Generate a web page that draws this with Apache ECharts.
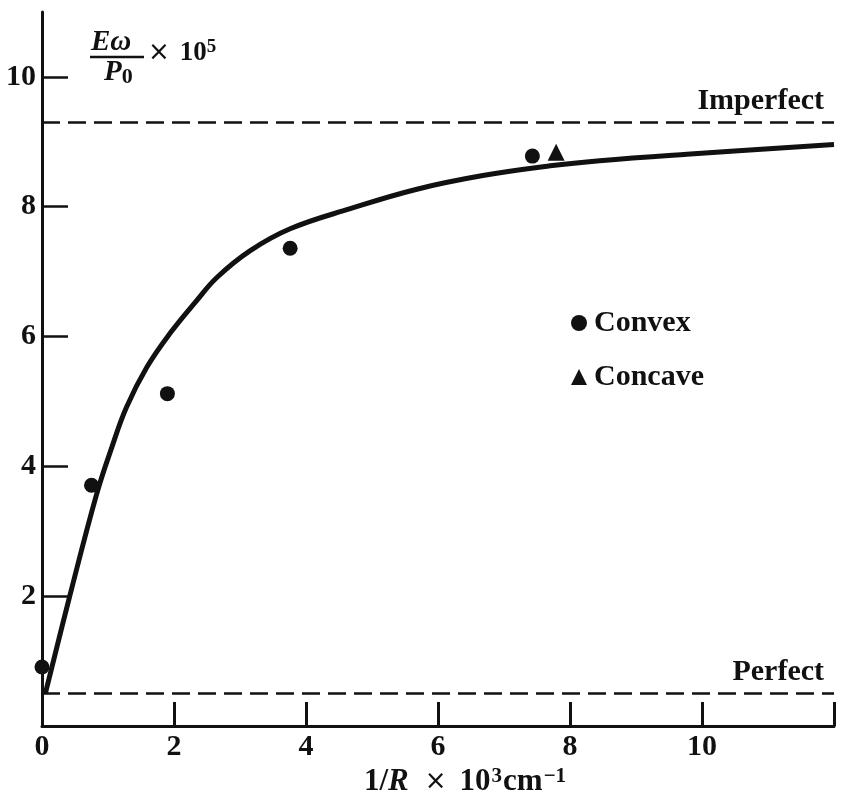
<!DOCTYPE html>
<html>
<head>
<meta charset="utf-8">
<script src="https://cdn.jsdelivr.net/npm/echarts@6/dist/echarts.min.js"></script>
<style>
html,body{margin:0;padding:0;background:#fff;}
#chart{width:855px;height:810px;}
</style>
</head>
<body>
<div id="chart"></div>
<script>
// ---- data ----
const convexX = [0, 0.75, 1.9, 3.76, 7.43];
const convexY = [0.91, 3.71, 5.12, 7.36, 8.78];
const concaveX = [7.79];
const concaveY = [8.84];
const curveX = [0.05, 0.42, 0.83, 1.06, 1.28, 1.59, 1.94, 2.34, 2.65, 3.15, 3.76, 4.67, 5.68, 6.68, 7.70, 8.45, 9.77, 12];
const curveY = [0.5, 2.0, 3.58, 4.3, 4.91, 5.53, 6.05, 6.55, 6.91, 7.32, 7.66, 7.97, 8.27, 8.48, 8.63, 8.71, 8.81, 8.96];
const imperfectLevel = 9.3;
const perfectLevel = 0.5;
const xTickValues = [2, 4, 6, 8, 10, 12];
const xLabelValues = [0, 2, 4, 6, 8, 10];
const yTickValues = [2, 4, 6, 8, 10];
const yLabelValues = [2, 4, 6, 8, 10];
const seriesNames = ['Convex', 'Concave'];

const zip = (a, b) => a.map((v, i) => [v, b[i]]);
const FONT = 'Liberation Serif';
const INK = '#111';

const chart = echarts.init(document.getElementById('chart'), null, {renderer: 'canvas'});
chart.setOption({
  backgroundColor: '#fff',
  animation: false,
  grid: {left: 42, right: 21, top: 12, bottom: 84, containLabel: false},
  xAxis: {
    type: 'value', min: 0, max: 12, interval: 2,
    axisLine: {show: true, lineStyle: {color: INK, width: 3}},
    axisTick: {show: true, inside: true, length: 24, lineStyle: {color: INK, width: 3}, customValues: xTickValues},
    axisLabel: {color: INK, fontFamily: FONT, fontWeight: 'bold', fontSize: 30, margin: 6, customValues: xLabelValues},
    splitLine: {show: false}
  },
  yAxis: {
    type: 'value', min: 0, max: 11, interval: 2,
    axisLine: {show: true, lineStyle: {color: INK, width: 3}},
    axisTick: {show: true, inside: true, length: 26, lineStyle: {color: INK, width: 2.5}, customValues: yTickValues},
    axisLabel: {color: INK, fontFamily: FONT, fontWeight: 'bold', fontSize: 30, margin: 6, customValues: yLabelValues},
    splitLine: {show: false}
  },
  legend: {
    orient: 'vertical', left: 566, top: 303, itemGap: 24,
    itemWidth: 16, itemHeight: 16, itemStyle: {color: INK, opacity: 1},
    textStyle: {color: INK, fontFamily: FONT, fontWeight: 'bold', fontSize: 30, padding: [0, 0, 0, 2]},
    data: [{name: seriesNames[0], icon: 'circle'}, {name: seriesNames[1], icon: 'triangle'}]
  },
  series: [
    {
      type: 'line', name: 'fit', data: zip(curveX, curveY), smooth: 0.4,
      showSymbol: false, lineStyle: {color: INK, width: 5}, z: 3,
      markLine: {
        silent: true, symbol: 'none',
        lineStyle: {color: INK, width: 2.5, type: [18, 8]},
        label: {show: true, position: 'insideEndTop', color: INK, fontFamily: FONT, fontWeight: 'bold', fontSize: 30, distance: [10, 6]},
        data: [
          {yAxis: imperfectLevel, label: {formatter: 'Imperfect'}},
          {yAxis: perfectLevel, label: {formatter: 'Perfect'}}
        ]
      }
    },
    {
      type: 'scatter', name: seriesNames[0], data: zip(convexX, convexY), symbol: 'circle', symbolSize: 15,
      itemStyle: {color: INK, opacity: 1}, clip: false, z: 4
    },
    {
      type: 'scatter', name: seriesNames[1], data: zip(concaveX, concaveY), symbol: 'triangle', symbolSize: 17,
      itemStyle: {color: INK, opacity: 1}, clip: false, z: 4
    }
  ],
  graphic: [
    {
      type: 'text', left: 91, top: 28,
      style: {
        text: '{i|E}{g|ω}', fill: INK,
        rich: {
          i: {fontFamily: FONT, fontWeight: 'bold', fontStyle: 'italic', fontSize: 29, fill: INK},
          g: {fontFamily: FONT, fontWeight: 'bold', fontStyle: 'italic', fontSize: 29, fill: INK}
        }
      }
    },
    {
      type: 'line', shape: {x1: 90, y1: 57, x2: 144, y2: 57},
      style: {stroke: INK, lineWidth: 2.5}
    },
    {
      type: 'text', left: 104, top: 58,
      style: {
        text: '{i|P}{s|0}', fill: INK,
        rich: {
          i: {fontFamily: FONT, fontWeight: 'bold', fontStyle: 'italic', fontSize: 29, fill: INK, lineHeight: 30},
          s: {fontFamily: FONT, fontWeight: 'bold', fontSize: 22, fill: INK, lineHeight: 30, verticalAlign: 'bottom', padding: [8, 0, 0, 0]}
        }
      }
    },
    {
      type: 'text', left: 148, top: 38,
      style: {
        text: '{x|×}{n|10}{s|5}', fill: INK,
        rich: {
          x: {fontFamily: 'DejaVu Sans', fontSize: 26, fill: INK, lineHeight: 30, padding: [0, 10, 0, 0]},
          n: {fontFamily: FONT, fontWeight: 'bold', fontSize: 27, fill: INK, lineHeight: 30},
          s: {fontFamily: FONT, fontWeight: 'bold', fontSize: 19, fill: INK, lineHeight: 18, verticalAlign: 'top'}
        }
      }
    },
    {
      type: 'text', left: 364, top: 766,
      style: {
        text: '{n|1/}{i|R}{x|×}{n|10}{s|3}{n|cm}{s|−1}', fill: INK,
        rich: {
          n: {fontFamily: FONT, fontWeight: 'bold', fontSize: 31, fill: INK, lineHeight: 32},
          i: {fontFamily: FONT, fontWeight: 'bold', fontStyle: 'italic', fontSize: 31, fill: INK, lineHeight: 32},
          x: {fontFamily: 'DejaVu Sans', fontSize: 26, fill: INK, lineHeight: 32, padding: [0, 13, 0, 16]},
          s: {fontFamily: FONT, fontWeight: 'bold', fontSize: 21, fill: INK, lineHeight: 20, verticalAlign: 'top', padding: [0, 1, 0, 1]}
        }
      }
    }
  ]
});
</script>
</body>
</html>
